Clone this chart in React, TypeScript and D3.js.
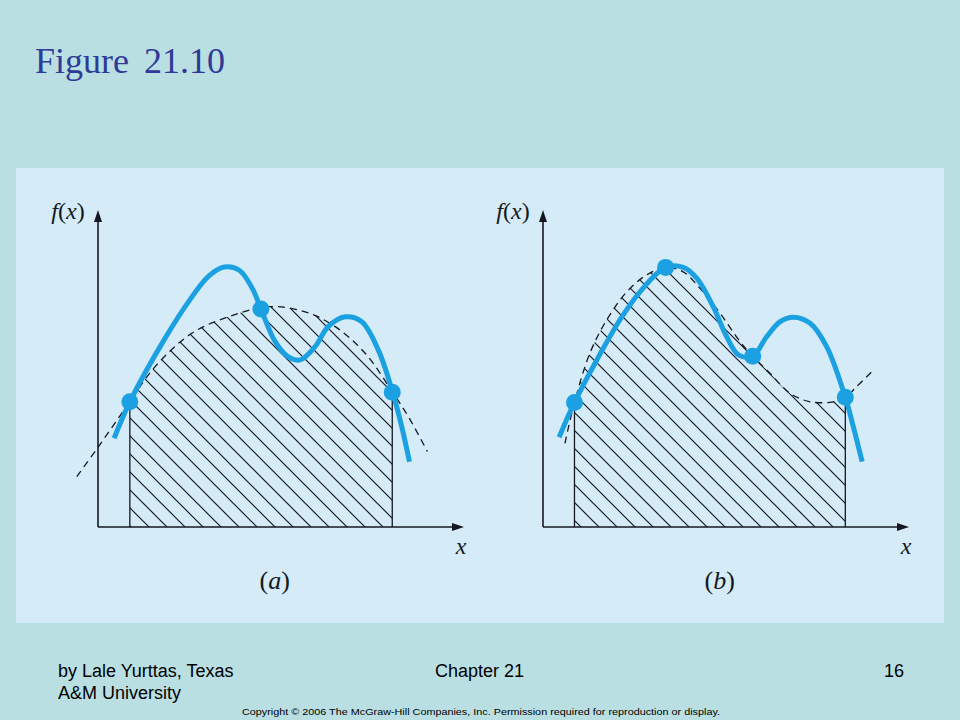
import React from "react";
import * as d3 from "d3";

// ---- data (x, y in axis units: 0..100 along each axis) ----
const BLUE_A_X = [4.4, 8.7, 18.3, 25.0, 30.3, 34.5, 38.6, 42.2, 44.5, 48.4, 52.0, 55.2, 59.3, 62.9, 67.5, 72.0, 76.6, 80.5, 83.0, 85.1];
const BLUE_A_Y = [28.0, 39.5, 59.5, 71.5, 79.2, 82.0, 81.0, 75.2, 68.8, 58.5, 53.7, 52.7, 56.9, 63.2, 66.3, 64.8, 55.8, 42.5, 31.6, 20.6];
const DASH_A_X = [-5.8, 0.1, 8.7, 15.6, 25.6, 35.6, 46.5, 56.6, 64.8, 73.0, 80.5, 84.8, 90.0];
const DASH_A_Y = [15.9, 25.3, 39.5, 50.6, 61.1, 66.3, 69.5, 67.9, 63.2, 54.8, 42.5, 34.8, 23.8];
const DOTS_A_X = [8.7, 44.5, 80.4];
const DOTS_A_Y = [39.5, 68.8, 42.5];

const BLUE_B_X = [4.4, 8.6, 14.7, 21.0, 26.5, 33.5, 38.3, 42.0, 46.5, 50.2, 53.4, 57.3, 61.1, 64.8, 68.4, 73.0, 77.5, 82.6, 84.8, 87.2];
const BLUE_B_Y = [28.3, 39.3, 52.7, 65.3, 74.2, 81.9, 81.9, 78.5, 69.5, 60.0, 54.3, 53.9, 60.0, 64.8, 66.2, 64.3, 56.9, 40.9, 31.6, 20.6];
const DASH_B_X = [6.0, 8.6, 12.8, 17.4, 22.9, 28.3, 33.5, 38.3, 42.9, 48.4, 53.8, 57.3, 62.0, 67.5, 73.0, 79.3, 82.6, 85.7, 90.1];
const DASH_B_Y = [26.4, 39.3, 54.8, 65.3, 74.2, 79.5, 81.9, 80.5, 75.3, 67.4, 58.5, 53.9, 48.5, 42.2, 39.5, 39.5, 40.9, 44.3, 49.3];
const DOTS_B_X = [8.6, 33.5, 57.3, 82.6];
const DOTS_B_Y = [39.3, 81.9, 53.9, 40.9];

const PANEL_LABELS = ["a", "b"];
const TITLE = "Figure 21.10";
const FOOT_LEFT_1 = "by Lale Yurttas, Texas";
const FOOT_LEFT_2 = "A&M University";
const FOOT_MID = "Chapter 21";
const FOOT_RIGHT = "16";
const COPYRIGHT = "Copyright \u00A9 2006 The McGraw-Hill Companies, Inc.  Permission required for reproduction or display.";

const BLUE = "#1ba1e2";
const INK = "#141820";
const SERIF = "'Liberation Serif', 'Times New Roman', serif";
const SANS = "'Liberation Sans', Arial, sans-serif";

type Panel = {
  id: string;
  label: string;
  ox: number;
  blueX: number[];
  blueY: number[];
  dashX: number[];
  dashY: number[];
  dotX: number[];
  dotY: number[];
};

const PANELS: Panel[] = [
  { id: "a", label: PANEL_LABELS[0], ox: 98, blueX: BLUE_A_X, blueY: BLUE_A_Y, dashX: DASH_A_X, dashY: DASH_A_Y, dotX: DOTS_A_X, dotY: DOTS_A_Y },
  { id: "b", label: PANEL_LABELS[1], ox: 543, blueX: BLUE_B_X, blueY: BLUE_B_Y, dashX: DASH_B_X, dashY: DASH_B_Y, dotX: DOTS_B_X, dotY: DOTS_B_Y },
];

function PanelChart({ p }: { p: Panel }) {
  const x = d3.scaleLinear().domain([0, 100]).range([p.ox, p.ox + 366]);
  const y = d3.scaleLinear().domain([0, 100]).range([527, 210]);
  const curve = d3.curveCatmullRom.alpha(0.5);
  const zip = (xs: number[], ys: number[]) => xs.map((v, i) => [v, ys[i]] as [number, number]);
  const line = d3.line<[number, number]>().x((d) => x(d[0])).y((d) => y(d[1])).curve(curve);
  const area = d3.area<[number, number]>().x((d) => x(d[0])).y0(y(0)).y1((d) => y(d[1])).curve(curve);
  const blue = zip(p.blueX, p.blueY);
  const dash = zip(p.dashX, p.dashY);
  const x0 = p.dotX[0];
  const x1 = p.dotX[p.dotX.length - 1];
  const y0v = p.dotY[0];
  const y1v = p.dotY[p.dotY.length - 1];
  const ah = 12, aw = 4;
  return (
    <g>
      <defs>
        <clipPath id={`rect-${p.id}`}>
          <rect x={x(x0)} y={y(100)} width={x(x1) - x(x0)} height={y(0) - y(100)} />
        </clipPath>
        <clipPath id={`area-${p.id}`}>
          <path d={area(dash) || ""} />
        </clipPath>
      </defs>
      <g clipPath={`url(#rect-${p.id})`}>
        <g clipPath={`url(#area-${p.id})`}>
          <rect x={x(x0)} y={y(100)} width={x(x1) - x(x0)} height={y(0) - y(100)} fill="url(#hatch)" />
        </g>
      </g>
      <line x1={x(x0)} x2={x(x0)} y1={y(0)} y2={y(y0v)} stroke={INK} strokeWidth={1.3} />
      <line x1={x(x1)} x2={x(x1)} y1={y(0)} y2={y(y1v)} stroke={INK} strokeWidth={1.3} />
      <path d={line(dash) || ""} fill="none" stroke={INK} strokeWidth={1.3} strokeDasharray="7,5" />
      {/* axes */}
      <line x1={x(0)} x2={x(100) - ah + 2} y1={y(0)} y2={y(0)} stroke={INK} strokeWidth={1.6} />
      <line x1={x(0)} x2={x(0)} y1={y(0)} y2={y(100) + ah - 2} stroke={INK} strokeWidth={1.6} />
      <path d={`M${x(100)},${y(0)}L${x(100) - ah},${y(0) - aw}L${x(100) - ah},${y(0) + aw}Z`} fill={INK} />
      <path d={`M${x(0)},${y(100)}L${x(0) - aw},${y(100) + ah}L${x(0) + aw},${y(100) + ah}Z`} fill={INK} />
      <path d={line(blue) || ""} fill="none" stroke={BLUE} strokeWidth={5} strokeLinecap="butt" />
      {p.dotX.map((dx, i) => (
        <circle key={i} cx={x(dx)} cy={y(p.dotY[i])} r={8.5} fill={BLUE} />
      ))}
      <text x={x(0) - 30} y={219} fontFamily={SERIF} fontSize={24} textAnchor="middle" fill={INK}>
        <tspan fontStyle="italic">f</tspan>
        <tspan>(</tspan>
        <tspan fontStyle="italic">x</tspan>
        <tspan>)</tspan>
      </text>
      <text x={x(100) - 3} y={554} fontFamily={SERIF} fontSize={24} fontStyle="italic" textAnchor="middle" fill={INK}>x</text>
      <text x={x(48.3)} y={589} fontFamily={SERIF} fontSize={26} textAnchor="middle" fill={INK}>
        <tspan>(</tspan>
        <tspan fontStyle="italic">{p.label}</tspan>
        <tspan>)</tspan>
      </text>
    </g>
  );
}

export default function App() {
  return (
    <svg width={960} height={720} style={{ position: "absolute", left: 0, top: 0 }}>
      <defs>
        <pattern id="hatch" patternUnits="userSpaceOnUse" width={18} height={18}>
          <path d="M0,0L18,18M-9,9L9,27M9,-9L27,9" stroke={INK} strokeWidth={1.2} />
        </pattern>
      </defs>
      <rect x={0} y={0} width={960} height={720} fill="#b9dfe3" />
      <text x={35} y={73} fontFamily={SERIF} fontSize={36} fill="#2f3a96" style={{ wordSpacing: "6px" }}>{TITLE}</text>
      <rect x={16} y={168} width={928} height={455} fill="#d5ebf8" />
      {PANELS.map((p) => (
        <PanelChart key={p.id} p={p} />
      ))}
      <text x={58} y={677} fontFamily={SANS} fontSize={18} fill="#000">{FOOT_LEFT_1}</text>
      <text x={58} y={699} fontFamily={SANS} fontSize={18} fill="#000">{FOOT_LEFT_2}</text>
      <text x={435} y={677} fontFamily={SANS} fontSize={18} fill="#000">{FOOT_MID}</text>
      <text x={884} y={677} fontFamily={SANS} fontSize={18} fill="#000">{FOOT_RIGHT}</text>
      <text x={242} y={715} fontFamily={SANS} fontSize={9.5} fill="#000" textLength={478} lengthAdjust="spacingAndGlyphs">{COPYRIGHT}</text>
    </svg>
  );
}
